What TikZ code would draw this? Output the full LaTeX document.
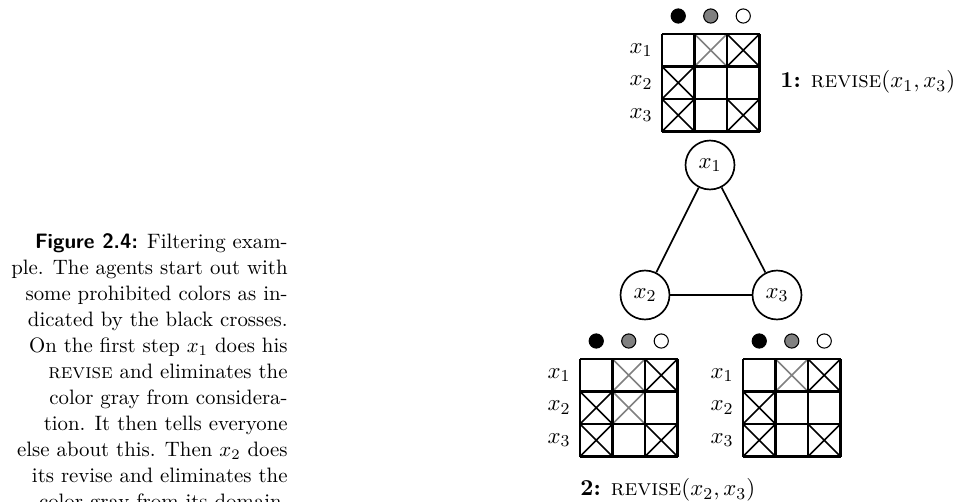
\documentclass[tikz,border=0pt]{standalone}
\usetikzlibrary{positioning}

\tikzset{
  agent/.style={draw,thick,circle,minimum size=23.5pt,inner sep=0pt},
  gridline/.style={line width=1.2pt},
  nogood/.style={line width=.75pt},
  dot/.style={draw,line width=.5pt},
  steplabel/.style={anchor=west,inner sep=0pt},
}
% colour grid with its dots and row labels; #1,#2 top left corner, #3 gray crosses (row/col)
\newcommand{\domaingrid}[3]{%
  \begin{scope}[shift={(#1,#2)}]
    \foreach \c/\f in {1/black,2/gray,3/white}
      \draw[dot,fill=\f] ({(\c-.5)*32.5},-18) circle[radius=3.4pt];
    \foreach \r in {1,2,3}
      \node at (-21,{(\r-.5)*32.5}) {$x_{\r}$};
    \foreach \r/\c in {1/3,2/1,3/1,3/3}
      \draw[nogood] ({(\c-1)*32.5},{(\r-1)*32.5}) -- ({\c*32.5},{\r*32.5})
                    ({(\c-1)*32.5},{\r*32.5}) -- ({\c*32.5},{(\r-1)*32.5});
    \foreach \r/\c in {#3}
      \draw[nogood,gray] ({(\c-1)*32.5},{(\r-1)*32.5}) -- ({\c*32.5},{\r*32.5})
                    ({(\c-1)*32.5},{\r*32.5}) -- ({\c*32.5},{(\r-1)*32.5});
    \foreach \i in {0,1,2,3} {
      \draw[gridline] ({\i*32.5},0) -- ({\i*32.5},97.5);
      \draw[gridline] (0,{\i*32.5}) -- (97.5,{\i*32.5});
    }
  \end{scope}}

\begin{document}
\begin{tikzpicture}[x=0.48pt,y=-0.48pt,font=\fontsize{10.95}{13.6}\selectfont]
\useasboundingbox (0,0) rectangle (956,501);

% caption
\node[anchor=north east,align=right,inner sep=0pt,font=\fontsize{10}{12.5}\selectfont] (caption) at (288,233)
  {\textsf{\textbf{Figure 2.4:}} Filtering exam-\\
   ple. The agents start out with\\
   some prohibited colors as in-\\
   dicated by the black crosses.\\
   On the first step $x_1$ does his\\
   \textsc{revise} and eliminates the\\
   color gray from considera-\\
   tion. It then tells everyone\\
   else about this. Then $x_2$ does\\
   its revise and eliminates the\\
   color gray from its domain.};

% domains
\domaingrid{662}{34}{1/2}
\domaingrid{580}{359}{1/2,2/2}
\domaingrid{743}{359}{1/2}

\node[steplabel] (step1) at (780,82) {\textbf{1:} \textsc{revise}$(x_1,x_3)$};
\node[steplabel] (step2) at (580,490) {\textbf{2:} \textsc{revise}$(x_2,x_3)$};

% constraint graph
\node[agent] (x1) at (710,165) {$x_1$};
\node[agent] (x2) at (645,295) {$x_2$};
\node[agent] (x3) at (777,295) {$x_3$};
\draw[thick] (x1) -- (x2);
\draw[thick] (x1) -- (x3);
\draw[thick] (x2) -- (x3);
\end{tikzpicture}
\end{document}
